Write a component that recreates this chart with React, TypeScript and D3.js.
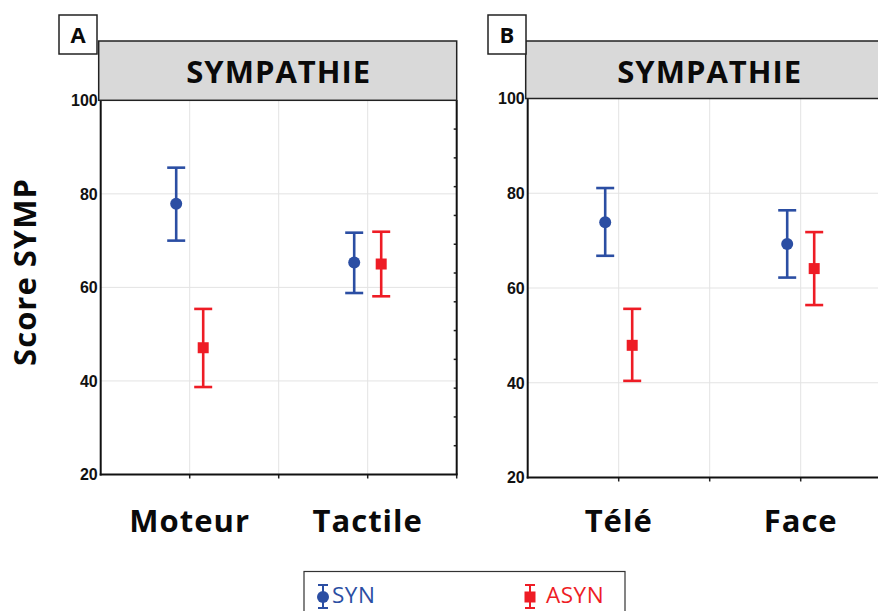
import React from "react";
import * as d3 from "d3";

const panelLabels = ["A", "B"];
const panelTitle = "SYMPATHIE";
const categoriesA = ["Moteur", "Tactile"];
const categoriesB = ["Télé", "Face"];
const series = ["SYN", "ASYN"];
const synMeanA = [77.9, 65.3];
const synLowA = [70.0, 58.8];
const synHighA = [85.6, 71.7];
const asynMeanA = [47.1, 65.0];
const asynLowA = [38.7, 58.1];
const asynHighA = [55.4, 71.9];
const synMeanB = [73.9, 69.3];
const synLowB = [66.8, 62.2];
const synHighB = [81.1, 76.4];
const asynMeanB = [47.9, 64.1];
const asynLowB = [40.4, 56.4];
const asynHighB = [55.6, 71.8];
const yTicks = [20, 40, 60, 80, 100];
const yTitle = "Score SYMP";

const BLUE = "#2b4ea3";
const RED = "#ee1c25";
const FONT = "'Open Sans', Lato, sans-serif";
const LS = 1.0;

type PanelDef = {
  label: string;
  cats: string[];
  syn: number[][];
  asyn: number[][];
  x0: number; x1: number; yTop: number; yBot: number;
  labelBox: [number, number];
  rightBorder: boolean;
};

const panels: PanelDef[] = [
  {
    label: panelLabels[0], cats: categoriesA,
    syn: [synMeanA, synLowA, synHighA], asyn: [asynMeanA, asynLowA, asynHighA],
    x0: 100.7, x1: 456.7, yTop: 100.3, yBot: 474.5, labelBox: [59, 97], rightBorder: true,
  },
  {
    label: panelLabels[1], cats: categoriesB,
    syn: [synMeanB, synLowB, synHighB], asyn: [asynMeanB, asynLowB, asynHighB],
    x0: 527.7, x1: 891.7, yTop: 98.5, yBot: 477.5, labelBox: [488, 526], rightBorder: false,
  },
];

function Panel({ p }: { p: PanelDef }) {
  const y = d3.scaleLinear().domain([20, 100]).range([p.yBot, p.yTop]);
  const x = d3.scalePoint<string>().domain(p.cats).range([p.x0, p.x1]).padding(0.5);
  const grid = d3.scaleLinear().domain([0, 4]).range([p.x0, p.x1]);
  const rightTicks = d3.scaleLinear().domain([0, 13]).range([p.yBot, p.yTop]);
  const off = 13.5;
  const cap = 9;
  const headerTop = 41;
  const mid = (p.x0 + p.x1) / 2;
  const bar = (cx: number, lo: number, hi: number, color: string) => (
    <g stroke={color} strokeWidth={2.6} fill="none">
      <line x1={cx} x2={cx} y1={y(lo)} y2={y(hi)} />
      <line x1={cx - cap} x2={cx + cap} y1={y(lo)} y2={y(lo)} />
      <line x1={cx - cap} x2={cx + cap} y1={y(hi)} y2={y(hi)} />
    </g>
  );
  return (
    <g>
      {[40, 60, 80].map((v) => (
        <line key={"h" + v} x1={p.x0} x2={p.x1} y1={y(v)} y2={y(v)} stroke="#e3e3e3" strokeWidth={1} />
      ))}
      {[1, 2, 3].map((i) => (
        <line key={"v" + i} x1={grid(i)} x2={grid(i)} y1={p.yTop} y2={p.yBot} stroke="#e3e3e3" strokeWidth={1} />
      ))}
      {[1, 2, 3, 4].map((i) => (
        <line key={"bt" + i} x1={grid(i)} x2={grid(i)} y1={p.yBot} y2={p.yBot + 4} stroke="#222" strokeWidth={1.5} />
      ))}
      {p.rightBorder && d3.range(1, 13).map((i) => (
        <line key={"rt" + i} x1={p.x1 - 3} x2={p.x1} y1={rightTicks(i)} y2={rightTicks(i)} stroke="#222" strokeWidth={1.5} />
      ))}
      <line x1={p.x0} x2={p.x0} y1={p.yTop} y2={p.yBot + 1} stroke="#111" strokeWidth={2} />
      <line x1={p.x0 - 1} x2={p.x1 + 1} y1={p.yBot} y2={p.yBot} stroke="#111" strokeWidth={2} />
      {p.rightBorder && <line x1={p.x1} x2={p.x1} y1={p.yTop} y2={p.yBot} stroke="#111" strokeWidth={2} />}
      {yTicks.map((v) => (
        <text key={"yt" + v} x={p.x0 - 3} y={y(v)} dy="0.36em" textAnchor="end"
          fontFamily="'Liberation Sans', Arial, sans-serif" fontWeight="bold" fontSize={16} fill="#111">{v}</text>
      ))}
      <rect x={p.x0 - 2} y={headerTop} width={p.x1 - p.x0 + 2} height={p.yTop - headerTop}
        fill="#d9d9d9" stroke="#222" strokeWidth={1.5} />
      <text x={mid} y={83} textAnchor="middle" fontFamily={FONT} fontWeight="bold" fontSize={31} letterSpacing={LS} fill="#0a0a0a">{panelTitle}</text>
      <rect x={p.labelBox[0]} y={15} width={p.labelBox[1] - p.labelBox[0]} height={39} fill="#fff" stroke="#222" strokeWidth={1.5} />
      <text x={(p.labelBox[0] + p.labelBox[1]) / 2} y={43} textAnchor="middle" fontFamily={FONT} fontWeight="bold" fontSize={22} fill="#0a0a0a">{p.label}</text>
      {p.cats.map((c) => (
        <text key={c} x={x(c)!} y={532} textAnchor="middle" fontFamily={FONT} fontWeight="bold" fontSize={31} letterSpacing={LS} fill="#0a0a0a">{c}</text>
      ))}
      {p.cats.map((c, i) => {
        const cs = x(c)! - off;
        const ca = x(c)! + off;
        return (
          <g key={"d" + c}>
            {bar(cs, p.syn[1][i], p.syn[2][i], BLUE)}
            <circle cx={cs} cy={y(p.syn[0][i])} r={6} fill={BLUE} />
            {bar(ca, p.asyn[1][i], p.asyn[2][i], RED)}
            <rect x={ca - 5.5} y={y(p.asyn[0][i]) - 5.5} width={11} height={11} fill={RED} />
          </g>
        );
      })}
    </g>
  );
}

export default function App() {
  return (
    <svg width={878} height={611} style={{ position: "absolute", left: 0, top: 0, background: "#fff" }}>
      <rect x={0} y={0} width={878} height={611} fill="#fff" />
      {panels.map((p) => <Panel key={p.label} p={p} />)}
      <text transform="translate(36,272) rotate(-90)" textAnchor="middle" fontFamily={FONT} fontWeight="bold" fontSize={31} letterSpacing={LS} fill="#0a0a0a">{yTitle}</text>
      <rect x={304} y={571.5} width={321} height={50} fill="#fff" stroke="#333" strokeWidth={1.2} />
      <g stroke={BLUE} strokeWidth={2}>
        <line x1={323} x2={323} y1={585} y2={608} />
        <line x1={318} x2={328} y1={585} y2={585} />
        <line x1={318} x2={328} y1={608} y2={608} />
      </g>
      <circle cx={323} cy={597} r={6} fill={BLUE} />
      <text x={332} y={603} fontFamily={FONT} fontSize={22.5} letterSpacing={0.5} fill={BLUE}>{series[0]}</text>
      <g stroke={RED} strokeWidth={2}>
        <line x1={530} x2={530} y1={585} y2={608} />
        <line x1={525} x2={535} y1={585} y2={585} />
        <line x1={525} x2={535} y1={608} y2={608} />
      </g>
      <rect x={524.5} y={591.5} width={11} height={11} fill={RED} />
      <text x={546} y={603} fontFamily={FONT} fontSize={22.5} letterSpacing={0.5} fill={RED}>{series[1]}</text>
    </svg>
  );
}
